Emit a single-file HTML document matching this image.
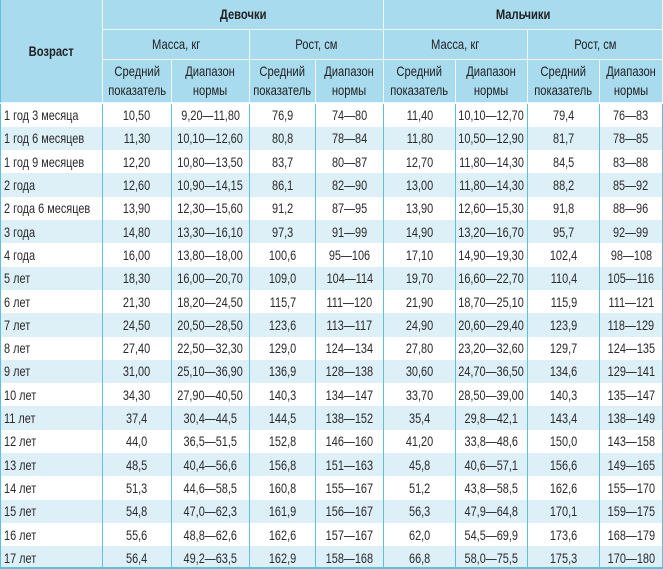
<!DOCTYPE html>
<html><head><meta charset="utf-8"><style>
html,body{margin:0;padding:0;background:#fff;width:663px;height:569px;overflow:hidden;position:relative;}
body{font-family:"Liberation Sans",sans-serif;font-size:14px;color:#2a2a2a;}
.r{position:absolute;left:0;width:663px;height:23.4px;display:flex;}
.r>div{box-sizing:border-box;height:100%;display:flex;align-items:center;justify-content:center;white-space:nowrap;border-right:1.5px solid #5cc0de;}
.r>div:first-child{border-left:1px solid #5cc0de;justify-content:flex-start;padding-left:3px;}
.r span{display:inline-block;transform:scaleX(0.78);}
.r>div:first-child span{transform-origin:left center;}
.b{background:#ddf0f8;}
.c1{width:103px}.c2{width:69px}.c3{width:78px}.c4{width:66px}.c5{width:68px}.c6{width:72px}.c7{width:72px}.c8{width:72px}.c9{width:63px}
.h{position:absolute;box-sizing:border-box;background:#a8dbee;border-right:1.5px solid #eef8fc;border-bottom:1.5px solid #eef8fc;display:flex;align-items:center;justify-content:center;text-align:center;color:#222;line-height:19px;}
.h span{display:inline-block;transform:scaleX(0.8);}
.hb{font-weight:bold;}
.bot{position:absolute;left:0;top:567px;width:663px;height:2px;background:#5cc0de;}
</style></head><body>
<div class="h hb" style="left:0;top:0;width:103px;height:103px;border-left:1px solid #5cc0de"><span>Возраст</span></div>
<div class="h hb" style="left:103px;top:0;width:281px;height:30px"><span>Девочки</span></div>
<div class="h hb" style="left:384px;top:0;width:279px;height:30px"><span>Мальчики</span></div>
<div class="h" style="left:103px;top:30px;width:147px;height:30px"><span>Масса, кг</span></div>
<div class="h" style="left:250px;top:30px;width:134px;height:30px"><span>Рост, см</span></div>
<div class="h" style="left:384px;top:30px;width:144px;height:30px"><span>Масса, кг</span></div>
<div class="h" style="left:528px;top:30px;width:135px;height:30px"><span>Рост, см</span></div>
<div class="h" style="left:103px;top:60px;width:69px;height:43px"><span>Средний<br>показатель</span></div>
<div class="h" style="left:172px;top:60px;width:78px;height:43px"><span>Диапазон<br>нормы</span></div>
<div class="h" style="left:250px;top:60px;width:66px;height:43px"><span>Средний<br>показатель</span></div>
<div class="h" style="left:316px;top:60px;width:68px;height:43px"><span>Диапазон<br>нормы</span></div>
<div class="h" style="left:384px;top:60px;width:72px;height:43px"><span>Средний<br>показатель</span></div>
<div class="h" style="left:456px;top:60px;width:72px;height:43px"><span>Диапазон<br>нормы</span></div>
<div class="h" style="left:528px;top:60px;width:72px;height:43px"><span>Средний<br>показатель</span></div>
<div class="h" style="left:600px;top:60px;width:63px;height:43px"><span>Диапазон<br>нормы</span></div>

<div class="r" style="top:103.5px"><div class="c1"><span>1 год 3 месяца</span></div><div class="c2"><span>10,50</span></div><div class="c3"><span>9,20—11,80</span></div><div class="c4"><span>76,9</span></div><div class="c5"><span>74—80</span></div><div class="c6"><span>11,40</span></div><div class="c7"><span>10,10—12,70</span></div><div class="c8"><span>79,4</span></div><div class="c9"><span>76—83</span></div></div>
<div class="r b" style="top:126.8px"><div class="c1"><span>1 год 6 месяцев</span></div><div class="c2"><span>11,30</span></div><div class="c3"><span>10,10—12,60</span></div><div class="c4"><span>80,8</span></div><div class="c5"><span>78—84</span></div><div class="c6"><span>11,80</span></div><div class="c7"><span>10,50—12,90</span></div><div class="c8"><span>81,7</span></div><div class="c9"><span>78—85</span></div></div>
<div class="r" style="top:150.1px"><div class="c1"><span>1 год 9 месяцев</span></div><div class="c2"><span>12,20</span></div><div class="c3"><span>10,80—13,50</span></div><div class="c4"><span>83,7</span></div><div class="c5"><span>80—87</span></div><div class="c6"><span>12,70</span></div><div class="c7"><span>11,80—14,30</span></div><div class="c8"><span>84,5</span></div><div class="c9"><span>83—88</span></div></div>
<div class="r b" style="top:173.4px"><div class="c1"><span>2 года</span></div><div class="c2"><span>12,60</span></div><div class="c3"><span>10,90—14,15</span></div><div class="c4"><span>86,1</span></div><div class="c5"><span>82—90</span></div><div class="c6"><span>13,00</span></div><div class="c7"><span>11,80—14,30</span></div><div class="c8"><span>88,2</span></div><div class="c9"><span>85—92</span></div></div>
<div class="r" style="top:196.7px"><div class="c1"><span>2 года 6 месяцев</span></div><div class="c2"><span>13,90</span></div><div class="c3"><span>12,30—15,60</span></div><div class="c4"><span>91,2</span></div><div class="c5"><span>87—95</span></div><div class="c6"><span>13,90</span></div><div class="c7"><span>12,60—15,30</span></div><div class="c8"><span>91,8</span></div><div class="c9"><span>88—96</span></div></div>
<div class="r b" style="top:220px"><div class="c1"><span>3 года</span></div><div class="c2"><span>14,80</span></div><div class="c3"><span>13,30—16,10</span></div><div class="c4"><span>97,3</span></div><div class="c5"><span>91—99</span></div><div class="c6"><span>14,90</span></div><div class="c7"><span>13,20—16,70</span></div><div class="c8"><span>95,7</span></div><div class="c9"><span>92—99</span></div></div>
<div class="r" style="top:243.3px"><div class="c1"><span>4 года</span></div><div class="c2"><span>16,00</span></div><div class="c3"><span>13,80—18,00</span></div><div class="c4"><span>100,6</span></div><div class="c5"><span>95—106</span></div><div class="c6"><span>17,10</span></div><div class="c7"><span>14,90—19,30</span></div><div class="c8"><span>102,4</span></div><div class="c9"><span>98—108</span></div></div>
<div class="r b" style="top:266.6px"><div class="c1"><span>5 лет</span></div><div class="c2"><span>18,30</span></div><div class="c3"><span>16,00—20,70</span></div><div class="c4"><span>109,0</span></div><div class="c5"><span>104—114</span></div><div class="c6"><span>19,70</span></div><div class="c7"><span>16,60—22,70</span></div><div class="c8"><span>110,4</span></div><div class="c9"><span>105—116</span></div></div>
<div class="r" style="top:289.9px"><div class="c1"><span>6 лет</span></div><div class="c2"><span>21,30</span></div><div class="c3"><span>18,20—24,50</span></div><div class="c4"><span>115,7</span></div><div class="c5"><span>111—120</span></div><div class="c6"><span>21,90</span></div><div class="c7"><span>18,70—25,10</span></div><div class="c8"><span>115,9</span></div><div class="c9"><span>111—121</span></div></div>
<div class="r b" style="top:313.2px"><div class="c1"><span>7 лет</span></div><div class="c2"><span>24,50</span></div><div class="c3"><span>20,50—28,50</span></div><div class="c4"><span>123,6</span></div><div class="c5"><span>113—117</span></div><div class="c6"><span>24,90</span></div><div class="c7"><span>20,60—29,40</span></div><div class="c8"><span>123,9</span></div><div class="c9"><span>118—129</span></div></div>
<div class="r" style="top:336.5px"><div class="c1"><span>8 лет</span></div><div class="c2"><span>27,40</span></div><div class="c3"><span>22,50—32,30</span></div><div class="c4"><span>129,0</span></div><div class="c5"><span>124—134</span></div><div class="c6"><span>27,80</span></div><div class="c7"><span>23,20—32,60</span></div><div class="c8"><span>129,7</span></div><div class="c9"><span>124—135</span></div></div>
<div class="r b" style="top:359.8px"><div class="c1"><span>9 лет</span></div><div class="c2"><span>31,00</span></div><div class="c3"><span>25,10—36,90</span></div><div class="c4"><span>136,9</span></div><div class="c5"><span>128—138</span></div><div class="c6"><span>30,60</span></div><div class="c7"><span>24,70—36,50</span></div><div class="c8"><span>134,6</span></div><div class="c9"><span>129—141</span></div></div>
<div class="r" style="top:383.1px"><div class="c1"><span>10 лет</span></div><div class="c2"><span>34,30</span></div><div class="c3"><span>27,90—40,50</span></div><div class="c4"><span>140,3</span></div><div class="c5"><span>134—147</span></div><div class="c6"><span>33,70</span></div><div class="c7"><span>28,50—39,00</span></div><div class="c8"><span>140,3</span></div><div class="c9"><span>135—147</span></div></div>
<div class="r b" style="top:406.4px"><div class="c1"><span>11 лет</span></div><div class="c2"><span>37,4</span></div><div class="c3"><span>30,4—44,5</span></div><div class="c4"><span>144,5</span></div><div class="c5"><span>138—152</span></div><div class="c6"><span>35,4</span></div><div class="c7"><span>29,8—42,1</span></div><div class="c8"><span>143,4</span></div><div class="c9"><span>138—149</span></div></div>
<div class="r" style="top:429.7px"><div class="c1"><span>12 лет</span></div><div class="c2"><span>44,0</span></div><div class="c3"><span>36,5—51,5</span></div><div class="c4"><span>152,8</span></div><div class="c5"><span>146—160</span></div><div class="c6"><span>41,20</span></div><div class="c7"><span>33,8—48,6</span></div><div class="c8"><span>150,0</span></div><div class="c9"><span>143—158</span></div></div>
<div class="r b" style="top:453px"><div class="c1"><span>13 лет</span></div><div class="c2"><span>48,5</span></div><div class="c3"><span>40,4—56,6</span></div><div class="c4"><span>156,8</span></div><div class="c5"><span>151—163</span></div><div class="c6"><span>45,8</span></div><div class="c7"><span>40,6—57,1</span></div><div class="c8"><span>156,6</span></div><div class="c9"><span>149—165</span></div></div>
<div class="r" style="top:476.3px"><div class="c1"><span>14 лет</span></div><div class="c2"><span>51,3</span></div><div class="c3"><span>44,6—58,5</span></div><div class="c4"><span>160,8</span></div><div class="c5"><span>155—167</span></div><div class="c6"><span>51,2</span></div><div class="c7"><span>43,8—58,5</span></div><div class="c8"><span>162,6</span></div><div class="c9"><span>155—170</span></div></div>
<div class="r b" style="top:499.6px"><div class="c1"><span>15 лет</span></div><div class="c2"><span>54,8</span></div><div class="c3"><span>47,0—62,3</span></div><div class="c4"><span>161,9</span></div><div class="c5"><span>156—167</span></div><div class="c6"><span>56,3</span></div><div class="c7"><span>47,9—64,8</span></div><div class="c8"><span>170,1</span></div><div class="c9"><span>159—175</span></div></div>
<div class="r" style="top:522.9px"><div class="c1"><span>16 лет</span></div><div class="c2"><span>55,6</span></div><div class="c3"><span>48,8—62,6</span></div><div class="c4"><span>162,6</span></div><div class="c5"><span>157—167</span></div><div class="c6"><span>62,0</span></div><div class="c7"><span>54,5—69,9</span></div><div class="c8"><span>173,6</span></div><div class="c9"><span>168—179</span></div></div>
<div class="r b" style="top:546.2px"><div class="c1"><span>17 лет</span></div><div class="c2"><span>56,4</span></div><div class="c3"><span>49,2—63,5</span></div><div class="c4"><span>162,9</span></div><div class="c5"><span>158—168</span></div><div class="c6"><span>66,8</span></div><div class="c7"><span>58,0—75,5</span></div><div class="c8"><span>175,3</span></div><div class="c9"><span>170—180</span></div></div>
<div class="bot"></div>
</body></html>
